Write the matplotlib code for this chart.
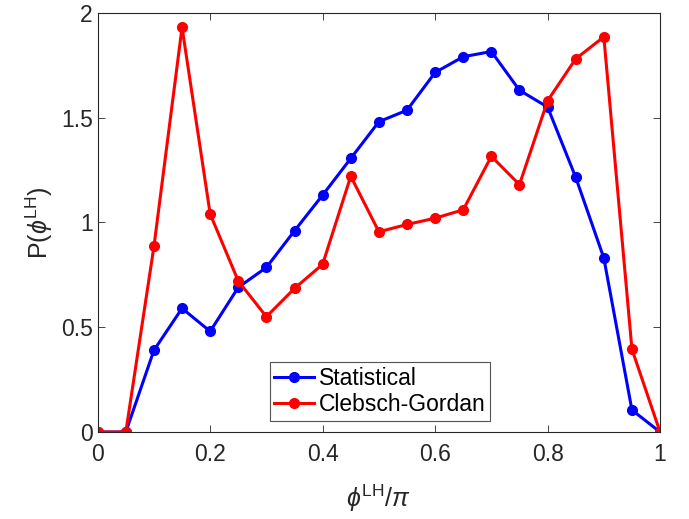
import matplotlib
matplotlib.use('Agg')
import matplotlib.pyplot as plt
import numpy as np

# data
phi = [0, 0.05, 0.1, 0.15, 0.2, 0.25, 0.3, 0.35, 0.4, 0.45, 0.5,
       0.55, 0.6, 0.65, 0.7, 0.75, 0.8, 0.85, 0.9, 0.95, 1.0]
statistical = [0, 0, 0.39, 0.59, 0.48, 0.69, 0.785, 0.96, 1.13, 1.305, 1.48,
               1.535, 1.715, 1.79, 1.815, 1.63, 1.55, 1.215, 0.83, 0.105, 0]
clebsch = [0, 0, 0.885, 1.93, 1.04, 0.72, 0.55, 0.685, 0.80, 1.22, 0.955,
           0.99, 1.02, 1.06, 1.315, 1.18, 1.58, 1.78, 1.885, 0.395, 0]
xticks = [0, 0.2, 0.4, 0.6, 0.8, 1]
xtick_labels = ['0', '0.2', '0.4', '0.6', '0.8', '1']
yticks = [0, 0.5, 1, 1.5, 2]
ytick_labels = ['0', '0.5', '1', '1.5', '2']

plt.rcParams['font.family'] = ['Liberation Sans', 'DejaVu Sans']
plt.rcParams['mathtext.fontset'] = 'custom'
plt.rcParams['mathtext.rm'] = 'Liberation Sans'
plt.rcParams['mathtext.it'] = 'Liberation Sans:italic'

fig = plt.figure(figsize=(6.89, 5.19), dpi=100)
ax = fig.add_axes([0.1418, 0.1676, 0.958 - 0.1418, 0.9755 - 0.1676])

ax.plot(phi, statistical, color='#0000ff', lw=2.2, marker='o', ms=7, label='Statistical')
ax.plot(phi, clebsch, color='#ff0000', lw=2.2, marker='o', ms=7, label='Clebsch-Gordan')

ax.set_xlim(0, 1)
ax.set_ylim(0, 2)
ax.set_xticks(xticks)
ax.set_xticklabels(xtick_labels)
ax.set_yticks(yticks)
ax.set_yticklabels(ytick_labels)
ax.tick_params(direction='in', length=5, width=0.6, labelsize=16.5, colors='#262626',
               top=True, right=True)
ax.tick_params(axis='x', pad=8)
for s in ax.spines.values():
    s.set_linewidth(0.8)
    s.set_color('#262626')

ax.set_xlabel(r'$\phi^{\mathrm{LH}}/\pi$', fontsize=18, color='#262626', labelpad=12)
ax.set_ylabel(r'P($\phi^{\mathrm{LH}}$)', fontsize=18, color='#262626')

leg = ax.legend(loc='center', bbox_to_anchor=(0.502, 0.097), fontsize=16.5,
                fancybox=False, edgecolor='#262626', handlelength=1.75,
                borderpad=0.2, labelspacing=0.15, handletextpad=0.2,
                borderaxespad=0)
leg.get_frame().set_linewidth(0.8)

fig.savefig('out.png', dpi=100)
